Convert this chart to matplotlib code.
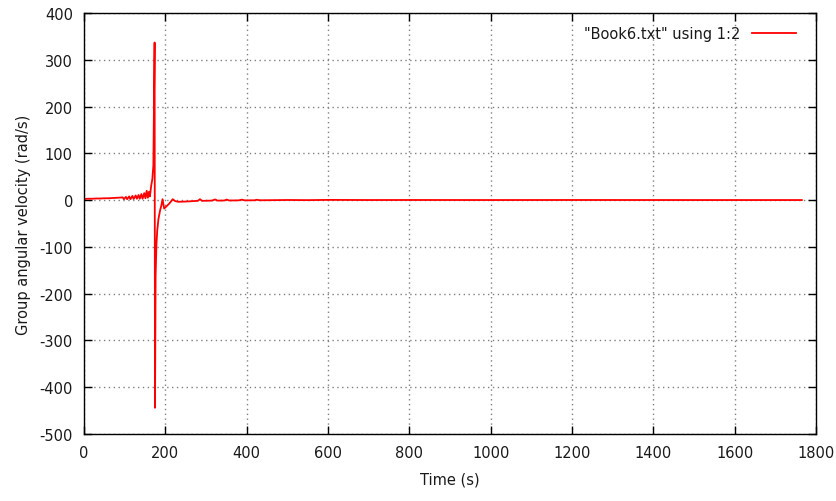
import matplotlib
matplotlib.use("Agg")
import matplotlib.pyplot as plt

# Time samples (s) and group angular velocity (rad/s) from Book6.txt
time_s = [
    0, 10, 20, 30, 40, 50, 60, 70, 80, 90,
    95, 98, 103, 106, 111, 114, 119, 122, 127, 130,
    134, 137, 141, 144, 148, 151, 154, 157, 160, 162,
    165, 168, 170.5, 173.5, 174.5, 176, 178, 180, 183, 187,
    190, 193, 197, 203, 210, 218, 224, 232, 250, 270,
    280, 285, 290, 315, 322, 328, 345, 351, 357, 380,
    388, 395, 420, 425, 432, 470, 500, 550, 600, 700,
    800, 1000, 1200, 1500, 1765,
]
omega = [
    2.5, 3, 3, 3.5, 3.5, 4, 4, 4.5, 5, 5.5,
    6, 2, 7, 2, 8, 2, 9, 2.5, 10, 3,
    11, 3, 13, 3, 15, 4, 20, 5, 18, 8,
    30, 45, 75, 337, -444, -160, -95, -65, -40, -22,
    -12, 2, -18, -13, -7, 2, -2, -3.5, -3, -2,
    -1.5, 2, -1.5, -1, 1.5, -1, -0.8, 1.2, -0.8, -0.5,
    1, -0.5, -0.3, 0.8, -0.3, 0, 0.3, 0, 0.5, 0.2,
    0.3, 0.2, 0.3, 0.2, 0.2,
]

x_ticks = [0, 200, 400, 600, 800, 1000, 1200, 1400, 1600, 1800]
y_ticks = [-500, -400, -300, -200, -100, 0, 100, 200, 300, 400]

plt.rcParams["font.family"] = ["DejaVu Sans"]
plt.rcParams["font.size"] = 10.5
plt.rcParams["axes.unicode_minus"] = False

fig = plt.figure(figsize=(8.37, 5.02), dpi=100)
ax = fig.add_axes([0.1004, 0.1335, 0.8746, 0.8385])

ax.plot(time_s, omega, color="#ff0000", lw=1.3, label='"Book6.txt" using 1:2')

ax.set_xlim(0, 1800)
ax.set_ylim(-500, 400)
ax.set_xticks(x_ticks)
ax.set_yticks(y_ticks)
ax.grid(True, color="#808080", linestyle=(0, (1, 2.5)), linewidth=1.0)
ax.tick_params(direction="in", top=True, right=True, length=6, width=1,
               colors="black", labelcolor="#1a1a1a", pad=8)
for sp in ax.spines.values():
    sp.set_linewidth(1.0)

ax.set_xlabel("Time (s)", color="#1a1a1a", labelpad=8)
ax.set_ylabel("Group angular velocity (rad/s)", color="#1a1a1a", labelpad=6)

leg = ax.legend(loc="upper right", frameon=False, markerfirst=False,
                handlelength=3.0, borderaxespad=0.5, handletextpad=0.8,
                bbox_to_anchor=(0.99, 1.0))
for t in leg.get_texts():
    t.set_color("#1a1a1a")

fig.savefig("out.png", dpi=100)
